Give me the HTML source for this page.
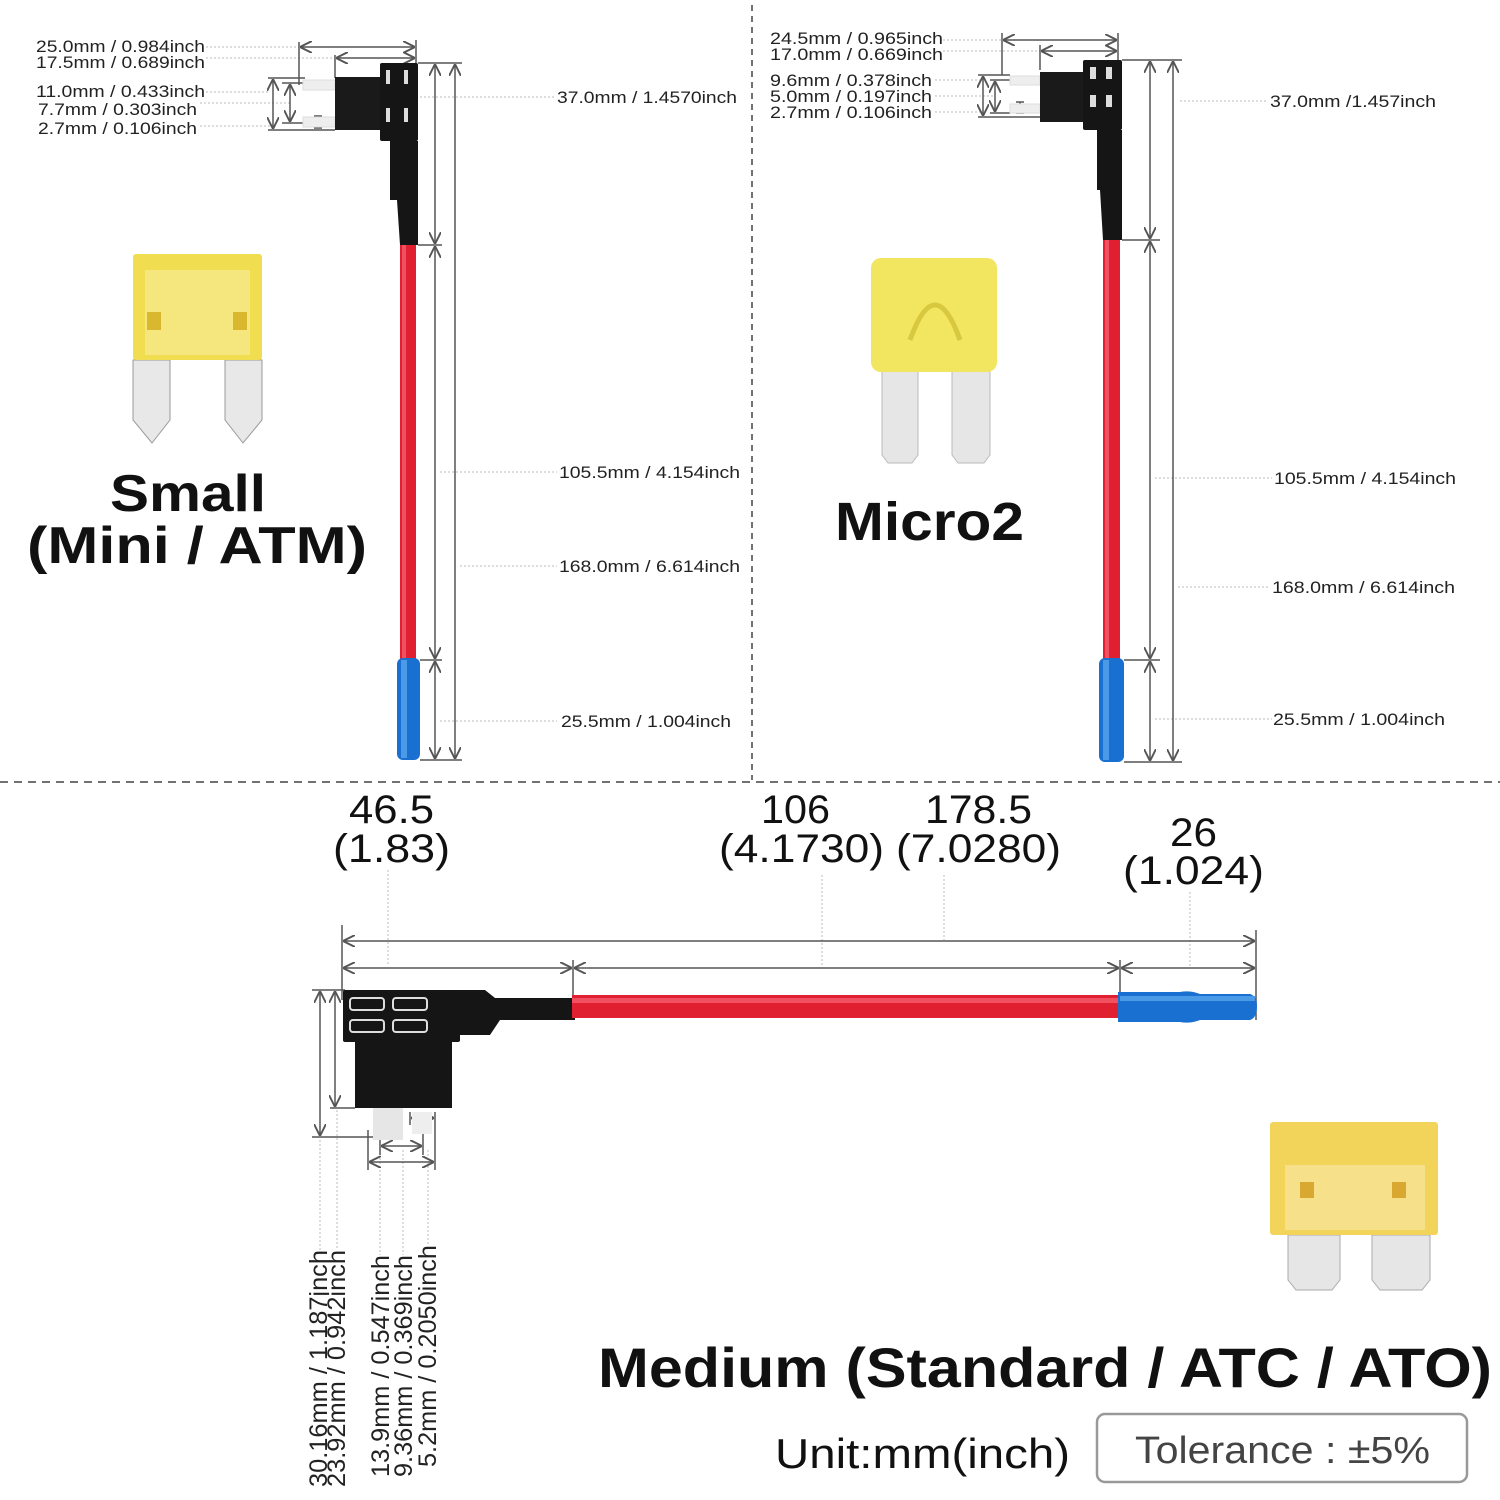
<!DOCTYPE html>
<html><head><meta charset="utf-8"><style>
html,body{margin:0;padding:0;background:#fff}
svg{display:block}
text{font-family:"Liberation Sans",Arial,sans-serif}
</style></head><body>
<svg width="1500" height="1500" viewBox="0 0 1500 1500" xmlns="http://www.w3.org/2000/svg">
<defs>
<marker id="a" viewBox="0 0 10 10" refX="10" refY="5" markerWidth="8" markerHeight="8" orient="auto-start-reverse"><path d="M0,0 L10,5 L0,10" fill="none" stroke="#555" stroke-width="1.6"/></marker>
</defs>
<g stroke="#555" stroke-width="1.5" fill="none">
<line x1="752" y1="5" x2="752" y2="780" stroke="#444" stroke-dasharray="6,5"/>
<line x1="0" y1="782" x2="1500" y2="782" stroke="#444" stroke-dasharray="8,6"/>
</g>

<!-- ======= TOP LEFT ======= -->
<g font-size="17" fill="#222" lengthAdjust="spacingAndGlyphs">
<text x="36" y="52" textLength="169" lengthAdjust="spacingAndGlyphs">25.0mm / 0.984inch</text>
<text x="36" y="68" textLength="169" lengthAdjust="spacingAndGlyphs">17.5mm / 0.689inch</text>
<text x="36" y="97" textLength="169" lengthAdjust="spacingAndGlyphs">11.0mm / 0.433inch</text>
<text x="38" y="115" textLength="159" lengthAdjust="spacingAndGlyphs">7.7mm / 0.303inch</text>
<text x="38" y="134" textLength="159" lengthAdjust="spacingAndGlyphs">2.7mm / 0.106inch</text>
</g>
<g stroke="#bbb" stroke-width="1" stroke-dasharray="2,2">
<line x1="206" y1="47" x2="299" y2="47"/><line x1="206" y1="58" x2="335" y2="58"/>
<line x1="206" y1="92" x2="270" y2="92"/><line x1="200" y1="103" x2="290" y2="103"/><line x1="200" y1="126" x2="270" y2="126"/>
<line x1="420" y1="97" x2="555" y2="97"/><line x1="440" y1="472" x2="557" y2="472"/><line x1="460" y1="566" x2="557" y2="566"/><line x1="440" y1="721" x2="557" y2="721"/>
</g>
<g stroke="#555" stroke-width="1.5" fill="none">
<line x1="299" y1="42" x2="299" y2="85"/><line x1="335" y1="55" x2="335" y2="78"/><line x1="416" y1="40" x2="416" y2="65"/>
<line x1="300" y1="47" x2="415" y2="47" marker-start="url(#a)" marker-end="url(#a)"/>
<line x1="336" y1="58" x2="415" y2="58" marker-start="url(#a)" marker-end="url(#a)"/>
<line x1="268" y1="78" x2="305" y2="78"/><line x1="268" y1="130" x2="335" y2="130"/><line x1="282" y1="83" x2="305" y2="83"/><line x1="282" y1="123" x2="305" y2="123"/>
<line x1="273" y1="79" x2="273" y2="129" marker-start="url(#a)" marker-end="url(#a)"/>
<line x1="290" y1="84" x2="290" y2="122" marker-start="url(#a)" marker-end="url(#a)"/>
<line x1="318" y1="116" x2="318" y2="128"/><line x1="314" y1="116" x2="322" y2="116"/><line x1="314" y1="128" x2="322" y2="128"/>
<line x1="418" y1="63" x2="462" y2="63"/><line x1="418" y1="245" x2="442" y2="245"/><line x1="420" y1="660" x2="442" y2="660"/><line x1="420" y1="760" x2="462" y2="760"/>
<line x1="435" y1="64" x2="435" y2="244" marker-start="url(#a)" marker-end="url(#a)"/>
<line x1="435" y1="246" x2="435" y2="659" marker-start="url(#a)" marker-end="url(#a)"/>
<line x1="435" y1="661" x2="435" y2="759" marker-start="url(#a)" marker-end="url(#a)"/>
<line x1="455" y1="64" x2="455" y2="759" marker-start="url(#a)" marker-end="url(#a)"/>
</g>
<rect x="303" y="80" width="32" height="10" fill="#eee" stroke="#ddd"/>
<rect x="303" y="117" width="32" height="10" fill="#eee" stroke="#ddd"/>
<rect x="335" y="77" width="50" height="53" fill="#1a1a1a"/>
<rect x="380" y="63" width="38" height="78" rx="2" fill="#151515"/>
<rect x="386" y="70" width="4" height="14" fill="#ddd"/><rect x="404" y="70" width="4" height="14" fill="#ddd"/>
<rect x="386" y="108" width="4" height="14" fill="#ddd"/><rect x="404" y="108" width="4" height="14" fill="#ddd"/>
<path d="M390 141 H418 V245 H400 L397 200 H390 Z" fill="#151515"/>
<rect x="400" y="245" width="16" height="415" fill="#e02030"/>
<rect x="402" y="245" width="4" height="415" fill="#f05060"/>
<rect x="397" y="658" width="23" height="102" rx="6" fill="#1a70d0"/>
<rect x="401" y="660" width="6" height="98" fill="#4a9ae8"/>
<g font-size="17" fill="#222">
<text x="557" y="103" textLength="180" lengthAdjust="spacingAndGlyphs">37.0mm / 1.4570inch</text>
<text x="559" y="478" textLength="181" lengthAdjust="spacingAndGlyphs">105.5mm / 4.154inch</text>
<text x="559" y="572" textLength="181" lengthAdjust="spacingAndGlyphs">168.0mm / 6.614inch</text>
<text x="561" y="727" textLength="170" lengthAdjust="spacingAndGlyphs">25.5mm / 1.004inch</text>
</g>
<path d="M133 360 L170 360 L170 420 L152 443 L133 420 Z" fill="#e8e8e8" stroke="#999"/>
<path d="M225 360 L262 360 L262 420 L243 443 L225 420 Z" fill="#e8e8e8" stroke="#999"/>
<rect x="133" y="254" width="129" height="106" rx="3" fill="#f0de50"/>
<rect x="145" y="270" width="105" height="85" fill="#f6e78a" opacity=".8"/>
<rect x="147" y="312" width="14" height="18" fill="#d9b830"/><rect x="233" y="312" width="14" height="18" fill="#d9b830"/>
<text x="110" y="511" font-size="52" font-weight="bold" fill="#111" textLength="156" lengthAdjust="spacingAndGlyphs">Small</text>
<text x="27" y="563" font-size="52" font-weight="bold" fill="#111" textLength="340" lengthAdjust="spacingAndGlyphs">(Mini / ATM)</text>

<!-- ======= TOP RIGHT ======= -->
<g font-size="17" fill="#222">
<text x="770" y="44" textLength="173" lengthAdjust="spacingAndGlyphs">24.5mm / 0.965inch</text>
<text x="770" y="60" textLength="173" lengthAdjust="spacingAndGlyphs">17.0mm / 0.669inch</text>
<text x="770" y="86" textLength="162" lengthAdjust="spacingAndGlyphs">9.6mm / 0.378inch</text>
<text x="770" y="102" textLength="162" lengthAdjust="spacingAndGlyphs">5.0mm / 0.197inch</text>
<text x="770" y="118" textLength="162" lengthAdjust="spacingAndGlyphs">2.7mm / 0.106inch</text>
</g>
<g stroke="#bbb" stroke-width="1" stroke-dasharray="2,2">
<line x1="943" y1="40" x2="1002" y2="40"/><line x1="943" y1="51" x2="1040" y2="51"/>
<line x1="935" y1="80" x2="980" y2="80"/><line x1="935" y1="96" x2="995" y2="96"/><line x1="935" y1="112" x2="980" y2="112"/>
<line x1="1180" y1="101" x2="1268" y2="101"/><line x1="1155" y1="478" x2="1272" y2="478"/><line x1="1178" y1="587" x2="1270" y2="587"/><line x1="1155" y1="719" x2="1272" y2="719"/>
</g>
<g stroke="#555" stroke-width="1.5" fill="none">
<line x1="1002" y1="33" x2="1002" y2="75"/><line x1="1040" y1="45" x2="1040" y2="70"/><line x1="1118" y1="33" x2="1118" y2="62"/>
<line x1="1003" y1="40" x2="1117" y2="40" marker-start="url(#a)" marker-end="url(#a)"/>
<line x1="1041" y1="51" x2="1117" y2="51" marker-start="url(#a)" marker-end="url(#a)"/>
<line x1="978" y1="75" x2="1010" y2="75"/><line x1="978" y1="117" x2="1040" y2="117"/><line x1="990" y1="80" x2="1010" y2="80"/><line x1="990" y1="113" x2="1010" y2="113"/>
<line x1="983" y1="76" x2="983" y2="116" marker-start="url(#a)" marker-end="url(#a)"/>
<line x1="995" y1="81" x2="995" y2="112" marker-start="url(#a)" marker-end="url(#a)"/>
<line x1="1020" y1="102" x2="1020" y2="113"/><line x1="1016" y1="102" x2="1024" y2="102"/><line x1="1016" y1="113" x2="1024" y2="113"/>
<line x1="1122" y1="60" x2="1182" y2="60"/><line x1="1122" y1="240" x2="1160" y2="240"/><line x1="1124" y1="660" x2="1160" y2="660"/><line x1="1124" y1="762" x2="1182" y2="762"/>
<line x1="1150" y1="61" x2="1150" y2="239" marker-start="url(#a)" marker-end="url(#a)"/>
<line x1="1150" y1="241" x2="1150" y2="659" marker-start="url(#a)" marker-end="url(#a)"/>
<line x1="1150" y1="661" x2="1150" y2="761" marker-start="url(#a)" marker-end="url(#a)"/>
<line x1="1173" y1="61" x2="1173" y2="761" marker-start="url(#a)" marker-end="url(#a)"/>
</g>
<rect x="1010" y="76" width="30" height="9" fill="#eee" stroke="#ddd"/>
<rect x="1010" y="104" width="30" height="9" fill="#eee" stroke="#ddd"/>
<rect x="1040" y="72" width="48" height="50" fill="#1a1a1a"/>
<rect x="1083" y="60" width="39" height="70" rx="2" fill="#151515"/>
<rect x="1090" y="67" width="6" height="12" fill="#ddd"/><rect x="1106" y="67" width="6" height="12" fill="#ddd"/>
<rect x="1090" y="95" width="6" height="12" fill="#ddd"/><rect x="1106" y="95" width="6" height="12" fill="#ddd"/>
<path d="M1097 130 H1122 V240 H1103 L1100 190 H1097 Z" fill="#151515"/>
<rect x="1103" y="240" width="17" height="420" fill="#e02030"/>
<rect x="1105" y="240" width="4" height="420" fill="#f05060"/>
<rect x="1099" y="658" width="25" height="104" rx="6" fill="#1a70d0"/>
<rect x="1103" y="660" width="6" height="100" fill="#4a9ae8"/>
<g font-size="17" fill="#222">
<text x="1270" y="107" textLength="166" lengthAdjust="spacingAndGlyphs">37.0mm /1.457inch</text>
<text x="1274" y="484" textLength="182" lengthAdjust="spacingAndGlyphs">105.5mm / 4.154inch</text>
<text x="1272" y="593" textLength="183" lengthAdjust="spacingAndGlyphs">168.0mm / 6.614inch</text>
<text x="1273" y="725" textLength="172" lengthAdjust="spacingAndGlyphs">25.5mm / 1.004inch</text>
</g>
<path d="M882 370 H918 V455 L912 463 H888 L882 455 Z" fill="#e6e6e6" stroke="#bbb"/>
<path d="M952 370 H990 V455 L984 463 H958 L952 455 Z" fill="#e6e6e6" stroke="#bbb"/>
<rect x="871" y="258" width="126" height="114" rx="10" fill="#f2e660"/>
<path d="M910 340 Q935 270 960 340" stroke="#d8c840" stroke-width="5" fill="none"/>
<text x="835" y="540" font-size="54" font-weight="bold" fill="#111" textLength="189" lengthAdjust="spacingAndGlyphs">Micro2</text>

<!-- ======= BOTTOM ======= -->
<g font-size="40" fill="#111">
<text x="349" y="823" textLength="85" lengthAdjust="spacingAndGlyphs">46.5</text><text x="333" y="862" textLength="117" lengthAdjust="spacingAndGlyphs">(1.83)</text>
<text x="761" y="823" textLength="69" lengthAdjust="spacingAndGlyphs">106</text><text x="719" y="862" textLength="165" lengthAdjust="spacingAndGlyphs">(4.1730)</text>
<text x="925" y="823" textLength="107" lengthAdjust="spacingAndGlyphs">178.5</text><text x="896" y="862" textLength="165" lengthAdjust="spacingAndGlyphs">(7.0280)</text>
<text x="1170" y="846" textLength="47" lengthAdjust="spacingAndGlyphs">26</text><text x="1123" y="884" textLength="141" lengthAdjust="spacingAndGlyphs">(1.024)</text>
</g>
<g stroke="#bbb" stroke-width="1" stroke-dasharray="2,2">
<line x1="388" y1="870" x2="388" y2="966"/><line x1="822" y1="875" x2="822" y2="966"/><line x1="944" y1="875" x2="944" y2="940"/><line x1="1190" y1="892" x2="1190" y2="966"/>
<line x1="320" y1="1140" x2="320" y2="1250"/><line x1="337" y1="1110" x2="337" y2="1250"/><line x1="380" y1="1150" x2="380" y2="1255"/><line x1="403" y1="1150" x2="403" y2="1255"/><line x1="428" y1="1150" x2="428" y2="1245"/>
</g>
<g stroke="#555" stroke-width="1.5" fill="none">
<line x1="342" y1="925" x2="342" y2="1000"/><line x1="573" y1="960" x2="573" y2="995"/><line x1="1120" y1="960" x2="1120" y2="995"/><line x1="1256" y1="930" x2="1256" y2="1020"/>
<line x1="343" y1="941" x2="1255" y2="941" marker-start="url(#a)" marker-end="url(#a)"/>
<line x1="343" y1="968" x2="572" y2="968" marker-start="url(#a)" marker-end="url(#a)"/>
<line x1="574" y1="968" x2="1119" y2="968" marker-start="url(#a)" marker-end="url(#a)"/>
<line x1="1121" y1="968" x2="1255" y2="968" marker-start="url(#a)" marker-end="url(#a)"/>
<line x1="312" y1="990" x2="345" y2="990"/><line x1="330" y1="1108" x2="355" y2="1108"/><line x1="312" y1="1137" x2="380" y2="1137"/>
<line x1="320" y1="991" x2="320" y2="1136" marker-start="url(#a)" marker-end="url(#a)"/>
<line x1="335" y1="991" x2="335" y2="1107" marker-start="url(#a)" marker-end="url(#a)"/>
<line x1="368" y1="1130" x2="368" y2="1170"/><line x1="380" y1="1130" x2="380" y2="1155"/><line x1="423" y1="1130" x2="423" y2="1155"/><line x1="435" y1="1112" x2="435" y2="1170"/><line x1="410" y1="1112" x2="410" y2="1125"/>
<line x1="381" y1="1146" x2="422" y2="1146" marker-start="url(#a)" marker-end="url(#a)"/>
<line x1="369" y1="1162" x2="434" y2="1162" marker-start="url(#a)" marker-end="url(#a)"/>
<line x1="411" y1="1118" x2="434" y2="1118" marker-start="url(#a)" marker-end="url(#a)"/>
</g>
<rect x="373" y="1108" width="30" height="32" fill="#e6e6e6"/>
<rect x="412" y="1112" width="20" height="22" fill="#eee"/>
<rect x="355" y="1040" width="97" height="68" fill="#151515"/>
<rect x="343" y="990" width="117" height="52" rx="2" fill="#151515"/>
<g stroke="#ddd" stroke-width="2" fill="none">
<rect x="350" y="998" width="34" height="12" rx="3"/><rect x="393" y="998" width="34" height="12" rx="3"/>
<rect x="350" y="1020" width="34" height="12" rx="3"/><rect x="393" y="1020" width="34" height="12" rx="3"/>
</g>
<path d="M450 990 H485 L495 998 H575 V1020 H500 L490 1035 H455 Z" fill="#151515"/>
<rect x="572" y="995" width="548" height="23" fill="#e02030"/>
<rect x="572" y="998" width="548" height="5" fill="#f05060"/>
<path d="M1118 992 H1180 Q1190 990 1200 994 H1250 Q1257 996 1257 1006 Q1257 1018 1250 1020 H1200 Q1190 1024 1180 1022 H1118 Z" fill="#1a70d0"/>
<rect x="1120" y="996" width="135" height="5" fill="#4a9ae8"/>
<g font-size="25" fill="#222">
<text transform="translate(327,1487) rotate(-90)" textLength="237" lengthAdjust="spacingAndGlyphs">30.16mm / 1.187inch</text>
<text transform="translate(345,1487) rotate(-90)" textLength="237" lengthAdjust="spacingAndGlyphs">23.92mm / 0.942inch</text>
<text transform="translate(389,1477) rotate(-90)" textLength="222" lengthAdjust="spacingAndGlyphs">13.9mm / 0.547inch</text>
<text transform="translate(412,1477) rotate(-90)" textLength="222" lengthAdjust="spacingAndGlyphs">9.36mm / 0.369inch</text>
<text transform="translate(436,1467) rotate(-90)" textLength="222" lengthAdjust="spacingAndGlyphs">5.2mm / 0.2050inch</text>
</g>
<path d="M1288 1235 H1340 V1280 L1332 1290 H1296 L1288 1280 Z" fill="#e6e6e6" stroke="#aaa"/>
<path d="M1372 1235 H1430 V1280 L1422 1290 H1380 L1372 1280 Z" fill="#e6e6e6" stroke="#aaa"/>
<rect x="1270" y="1122" width="168" height="113" rx="3" fill="#f2d45a"/>
<rect x="1285" y="1165" width="140" height="65" fill="#f7e08a"/>
<rect x="1300" y="1182" width="14" height="16" fill="#d8a830"/><rect x="1392" y="1182" width="14" height="16" fill="#d8a830"/>
<text x="598" y="1387" font-size="56" font-weight="bold" fill="#111" textLength="894" lengthAdjust="spacingAndGlyphs">Medium (Standard / ATC / ATO)</text>
<text x="775" y="1468" font-size="42" fill="#111" textLength="295" lengthAdjust="spacingAndGlyphs">Unit:mm(inch)</text>
<rect x="1097" y="1414" width="370" height="68" rx="8" fill="#fff" stroke="#999" stroke-width="2.5"/>
<text x="1135" y="1463" font-size="38" fill="#444" textLength="295" lengthAdjust="spacingAndGlyphs">Tolerance : ±5%</text>
</svg>
</body></html>
